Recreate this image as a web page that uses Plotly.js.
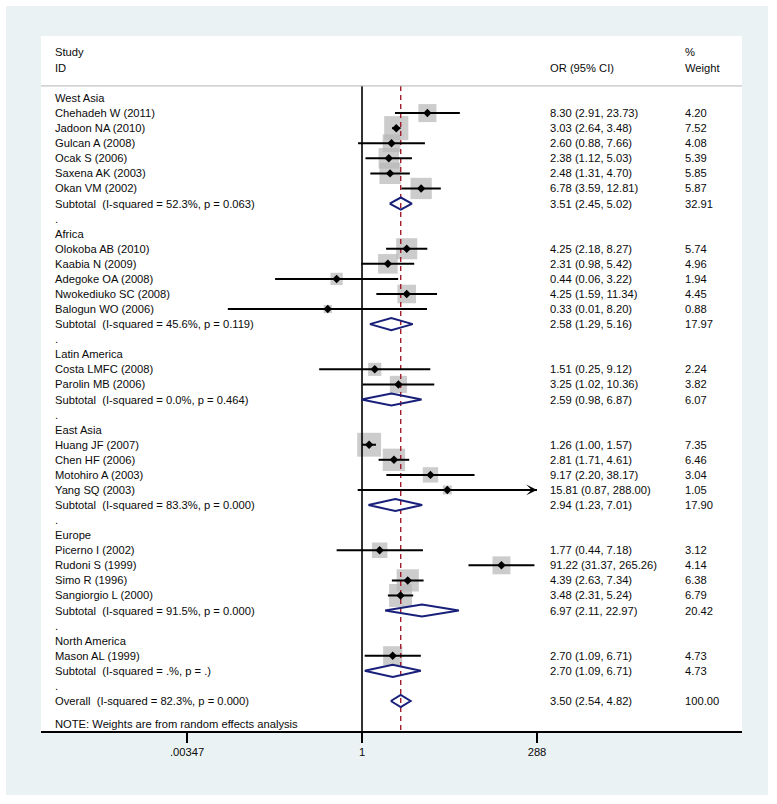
<!DOCTYPE html>
<html>
<head>
<meta charset="utf-8">
<script src="https://cdn.plot.ly/plotly-3.0.1.min.js"></script>
<style>
html,body{margin:0;padding:0;background:#ffffff;}
#chart{position:absolute;left:6px;top:6px;width:762px;height:789px;}
</style>
</head>
<body>
<div id="chart"></div>
<script>
// ---- data ----
const groups = ["West Asia","Africa","Latin America","East Asia","Europe","North America"];
const studyNames = ["Chehadeh W (2011)","Jadoon NA (2010)","Gulcan A (2008)","Ocak S (2006)","Saxena AK (2003)","Okan VM (2002)",
  "Olokoba AB (2010)","Kaabia N (2009)","Adegoke OA (2008)","Nwokediuko SC (2008)","Balogun WO (2006)",
  "Costa LMFC (2008)","Parolin MB (2006)",
  "Huang JF (2007)","Chen HF (2006)","Motohiro A (2003)","Yang SQ (2003)",
  "Picerno I (2002)","Rudoni S (1999)","Simo R (1996)","Sangiorgio L (2000)",
  "Mason AL (1999)"];
const studyGroup = [0,0,0,0,0,0, 1,1,1,1,1, 2,2, 3,3,3,3, 4,4,4,4, 5];
const studyOR = [8.30,3.03,2.60,2.38,2.48,6.78, 4.25,2.31,0.44,4.25,0.33, 1.51,3.25, 1.26,2.81,9.17,15.81, 1.77,91.22,4.39,3.48, 2.70];
const studyLow = [2.91,2.64,0.88,1.12,1.31,3.59, 2.18,0.98,0.06,1.59,0.013, 0.25,1.02, 1.00,1.71,2.20,0.87, 0.44,31.37,2.63,2.31, 1.09];
const studyHigh = [23.73,3.48,7.66,5.03,4.70,12.81, 8.27,5.42,3.22,11.34,8.20, 9.12,10.36, 1.57,4.61,38.17,288.00, 7.18,265.26,7.34,5.24, 6.71];
const studyWeight = [4.20,7.52,4.08,5.39,5.85,5.87, 5.74,4.96,1.94,4.45,0.88, 2.24,3.82, 7.35,6.46,3.04,1.05, 3.12,4.14,6.38,6.79, 4.73];
const subI2 = ["52.3%","45.6%","0.0%","83.3%","91.5%",".%"];
const subP = ["0.063","0.119","0.464","0.000","0.000","."];
const subOR = [3.51,2.58,2.59,2.94,6.97,2.70];
const subLow = [2.45,1.29,0.98,1.23,2.11,1.09];
const subHigh = [5.02,5.16,6.87,7.01,22.97,6.71];
const subWeight = [32.91,17.97,6.07,17.90,20.42,4.73];
const overallOR = 3.50, overallLow = 2.54, overallHigh = 4.82, overallWeight = 100.00;
const overallI2 = "82.3%", overallP = "0.000";
const tickVals = [0.00347, 1, 288];
const tickLabels = [".00347", "1", "288"];

// ---- styles ----
const FONT = "Liberation Sans, Arial, sans-serif";
const TXT = "#0a0a0a";
const NAVY = "#18207a";
const sp = "\u00a0";
const fmt = v => v.toFixed(2);
const ciText = (o,l,h) => fmt(o) + " (" + fmt(l) + ", " + fmt(h) + ")";
const xMax = tickVals[tickVals.length-1];

const annotations = [];
const colLabel = 0.0171, colCI = 0.7233, colW = 0.9158;
function addText(x, y, text){
  annotations.push({xref:'paper', yref:'y', x:x, y:y, text:text, showarrow:false,
    xanchor:'left', yanchor:'middle', font:{family:FONT, size:11.2, color:TXT}});
}

// headers
addText(colLabel, -3.05, "Study");
addText(colLabel, -1.99, "ID");
addText(colCI, -1.99, "OR (95% CI)");
addText(colW, -3.05, "%");
addText(colW, -1.99, "Weight");

// build rows
const boxX=[], boxY=[], boxS=[];
const ptX=[], ptY=[];
const ciX=[], ciY=[];
const dX=[], dY=[];
const H = 0.4;
let r = 0;
for (let g=0; g<groups.length; g++){
  addText(colLabel, r, groups[g]); r++;
  for (let i=0; i<studyNames.length; i++){
    if (studyGroup[i] !== g) continue;
    addText(colLabel, r, studyNames[i]);
    addText(colCI, r, ciText(studyOR[i], studyLow[i], studyHigh[i]));
    addText(colW, r, fmt(studyWeight[i]));
    boxX.push(studyOR[i]); boxY.push(r); boxS.push(8.8*Math.sqrt(studyWeight[i]));
    ptX.push(studyOR[i]); ptY.push(r);
    ciX.push(studyLow[i], Math.min(studyHigh[i], xMax), null); ciY.push(r, r, null);
    if (studyHigh[i] >= xMax){
      annotations.push({xref:'x', yref:'y', x:Math.log10(xMax), y:r, ax:-14, ay:0, text:'',
        showarrow:true, arrowhead:3, arrowsize:0.9, arrowwidth:2, arrowcolor:'#000', standoff:0});
    }
    r++;
  }
  addText(colLabel, r, "Subtotal" + sp + sp + "(I-squared = " + subI2[g] + ", p = " + subP[g] + ")");
  addText(colCI, r, ciText(subOR[g], subLow[g], subHigh[g]));
  addText(colW, r, fmt(subWeight[g]));
  dX.push(subLow[g], subOR[g], subHigh[g], subOR[g], subLow[g], null);
  dY.push(r, r-H, r, r+H, r, null);
  r++;
  addText(colLabel, r, "."); r++;
}
addText(colLabel, r, "Overall" + sp + sp + "(I-squared = " + overallI2 + ", p = " + overallP + ")");
addText(colCI, r, ciText(overallOR, overallLow, overallHigh));
addText(colW, r, fmt(overallWeight));
dX.push(overallLow, overallOR, overallHigh, overallOR, overallLow, null);
dY.push(r, r-H, r, r+H, r, null);
const lastRow = r;
addText(colLabel, lastRow + 1.53, "NOTE: Weights are from random effects analysis");

const yTop = -4.113, yBot = 41.99, yHead = -0.8;

const traces = [
  {type:'scatter', mode:'markers', x:boxX, y:boxY, hoverinfo:'skip',
   marker:{symbol:'square', size:boxS, color:'#b6b6b6', line:{width:0}}},
  {type:'scatter', mode:'lines', x:[1,1], y:[yHead, yBot], hoverinfo:'skip',
   line:{color:'#000', width:1.6}},
  {type:'scatter', mode:'lines', x:[overallOR, overallOR], y:[yHead, yBot], hoverinfo:'skip',
   line:{color:'#a11d2b', width:1.4, dash:'5px,4px'}},
  {type:'scatter', mode:'lines', x:ciX, y:ciY, hoverinfo:'skip', connectgaps:false,
   line:{color:'#000', width:2}},
  {type:'scatter', mode:'lines', x:dX, y:dY, hoverinfo:'skip', connectgaps:false,
   line:{color:NAVY, width:2}},
  {type:'scatter', mode:'markers', x:ptX, y:ptY, hoverinfo:'skip',
   marker:{symbol:'diamond', size:6.5, color:'#000', line:{width:0}}}
];

const layout = {
  width:762, height:789,
  margin:{l:35, r:26, t:30, b:64, pad:0},
  paper_bgcolor:'#eaf2f3', plot_bgcolor:'#ffffff',
  showlegend:false,
  font:{family:FONT, size:11, color:TXT},
  xaxis:{type:'log', range:[-4.512, 5.341], tickvals:tickVals, ticktext:tickLabels,
    ticks:'outside', ticklen:10, tickwidth:2, tickcolor:'#000',
    showline:true, linecolor:'#000', linewidth:2, showgrid:false, zeroline:false,
    tickfont:{family:FONT, size:11.2, color:TXT}, fixedrange:true},
  yaxis:{range:[yBot, yTop], visible:false, showgrid:false, zeroline:false, fixedrange:true},
  shapes:[{type:'line', xref:'paper', yref:'y', x0:0, x1:1, y0:yHead, y1:yHead,
    line:{color:'#b5b5b5', width:1}}],
  annotations:annotations
};

Plotly.newPlot('chart', traces, layout, {displayModeBar:false, staticPlot:true});
</script>
</body>
</html>
